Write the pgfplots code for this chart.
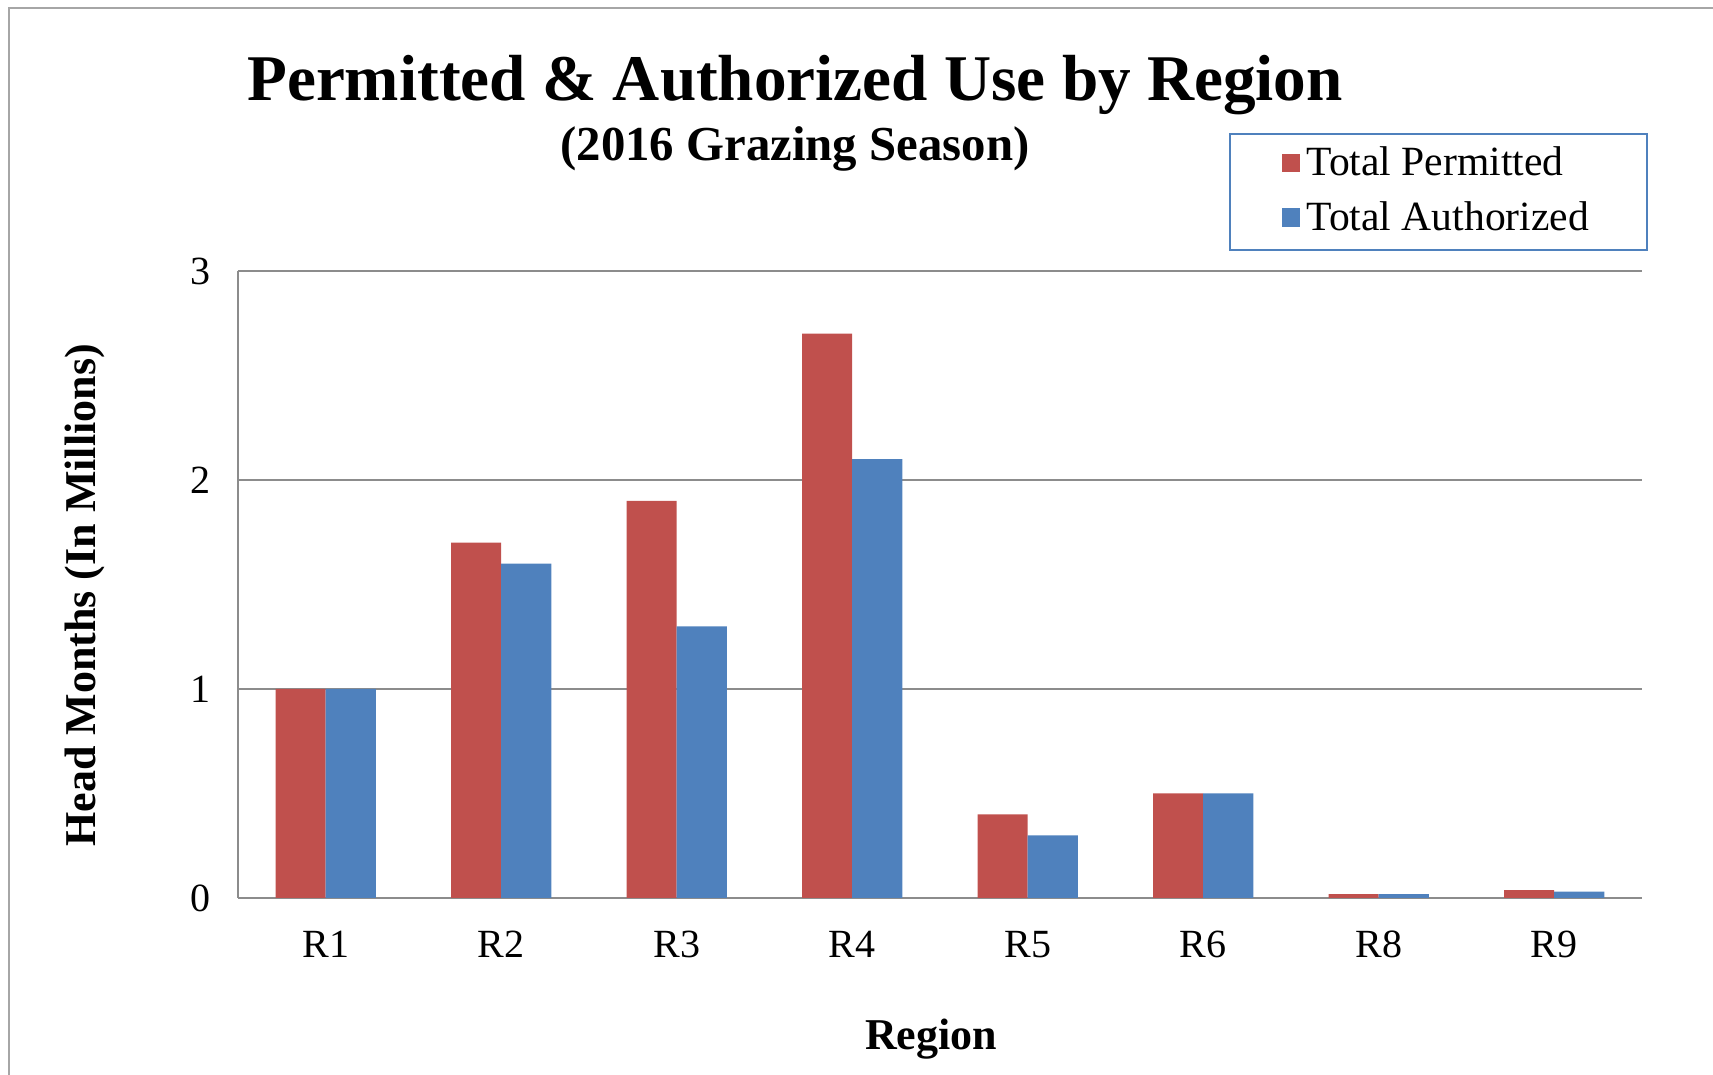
\documentclass[border=0pt]{standalone}
\usepackage{pgfplots}
\pgfplotsset{compat=1.18}
\usepackage{fontspec}
\setmainfont{Liberation Serif}
\definecolor{permred}{HTML}{C0504D}
\definecolor{authblue}{HTML}{4F81BD}
\definecolor{gridgray}{HTML}{8C8C8C}
\definecolor{framegray}{HTML}{A6A6A6}
\definecolor{legblue}{HTML}{4F81BD}
\begin{document}
\begin{tikzpicture}
\useasboundingbox (-119pt,-88.5pt) rectangle (737.5pt,449pt);
\draw[framegray, line width=1pt] (-114.6pt,-120pt) -- (-114.6pt,445.2pt) -- (760pt,445.2pt);
\begin{axis}[
  scale only axis, width=702pt, height=313.5pt,
  ybar, bar width=0.286,
  xmin=-0.5, xmax=7.5, ymin=0, ymax=3,
  xtick={0,1,2,3,4,5,6,7}, xticklabels={R1,R2,R3,R4,R5,R6,R8,R9},
  ytick={0,1,2,3},
  axis x line*=bottom, axis y line*=left,
  axis line style={gridgray, line width=1pt, -},
  ymajorgrids, grid style={gridgray, line width=1pt},
  major tick length=0pt,
  tick label style={font=\fontsize{20}{24}\selectfont},
  /pgf/number format/assume math mode=true,
  xticklabel style={anchor=base, yshift=-30pt},
  yticklabel style={anchor=east, xshift=-10pt},
  xlabel={Region},
  xlabel style={font=\bfseries\fontsize{22}{26}\selectfont, anchor=base, at={(rel axis cs:0.4936,0)}, yshift=-75.5pt},
  ylabel={Head Months (In Millions)},
  ylabel style={font=\bfseries\fontsize{22}{26}\selectfont, anchor=center, at={(rel axis cs:-0.109,0.4826)}},
  legend style={at={(rel axis cs:0.7058,1.2201)}, anchor=north west, draw=legblue, line width=1pt,
    font=\fontsize{20.8}{25}\selectfont, inner xsep=25.8pt, inner ysep=3.5pt, row sep=4pt,
    nodes={text height=14pt, text depth=3pt, inner sep=3.2pt}, cells={anchor=west}},
  legend image code/.code={\fill[#1] (2.5pt,-3.9pt) rectangle (11.8pt,5.4pt);},
]
\addplot[fill=permred, draw=none, bar shift=-0.143] coordinates {
(0,1.0) (1,1.7) (2,1.9) (3,2.7) (4,0.4) (5,0.5) (6,0.019) (7,0.038)};
\addlegendentry{Total Permitted}
\addplot[fill=authblue, draw=none, bar shift=0.143] coordinates {
(0,1.0) (1,1.6) (2,1.3) (3,2.1) (4,0.3) (5,0.5) (6,0.018) (7,0.03)};
\addlegendentry{Total Authorized}
\end{axis}
\node[anchor=base, font=\bfseries\fontsize{32.6}{40}\selectfont] at (278.5pt,398.75pt) {Permitted \& Authorized Use by Region};
\node[anchor=base, font=\bfseries\fontsize{24.4}{29}\selectfont] at (278.5pt,368.7pt) {(2016 Grazing Season)};
\end{tikzpicture}
\end{document}
